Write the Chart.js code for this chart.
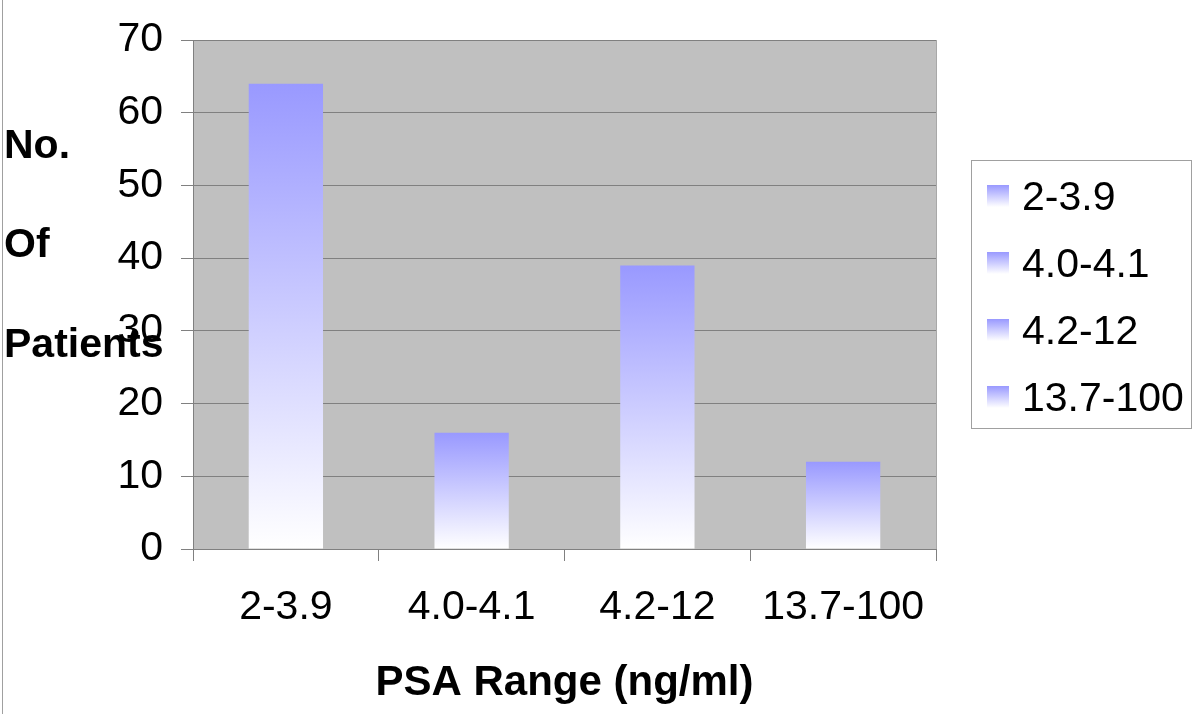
<!DOCTYPE html>
<html>
<head>
<meta charset="utf-8">
<script src="https://cdn.jsdelivr.net/npm/chart.js@4.4.0/dist/chart.umd.min.js"></script>
<style>
  html, body { margin: 0; padding: 0; background: #ffffff; }
  #wrap { width: 1200px; height: 714px; position: relative; }
</style>
</head>
<body>
<div id="wrap"><canvas id="c" width="1200" height="714"></canvas></div>
<script>
const categories = ['2-3.9', '4.0-4.1', '4.2-12', '13.7-100'];
const patients = [64, 16, 39, 12];
const yTitleLines = ['No.', 'Of', 'Patients'];
const xTitle = 'PSA Range (ng/ml)';
const yMin = 0, yMax = 70, yStep = 10;

const FONT = '"Liberation Sans", Arial, sans-serif';
const BAR_TOP = '#9999ff';
const BAR_BOTTOM = '#ffffff';

function barGradient(ctx) {
  const chart = ctx.chart;
  const { chartArea, scales } = chart;
  if (!chartArea || ctx.raw === undefined) return BAR_TOP;
  const top = scales.y.getPixelForValue(ctx.raw);
  const bot = scales.y.getPixelForValue(0);
  const g = chart.ctx.createLinearGradient(0, top, 0, bot);
  g.addColorStop(0, BAR_TOP);
  g.addColorStop(1, BAR_BOTTOM);
  return g;
}

const decorPlugin = {
  id: 'decor',
  beforeDraw(chart) {
    const { ctx, chartArea: a } = chart;
    ctx.save();
    ctx.fillStyle = '#c0c0c0';
    ctx.fillRect(a.left, a.top, a.right - a.left, a.bottom - a.top);
    ctx.restore();
  },
  afterDraw(chart) {
    const { ctx, chartArea: a } = chart;
    ctx.save();
    ctx.strokeStyle = '#a0a0a0';
    ctx.lineWidth = 1;
    ctx.beginPath();
    ctx.moveTo(2.5, 0); ctx.lineTo(2.5, 714);
    ctx.stroke();
    ctx.strokeStyle = '#a8a8a8';
    ctx.beginPath();
    ctx.moveTo(Math.round(a.right) + 0.5, a.top); ctx.lineTo(Math.round(a.right) + 0.5, a.bottom);
    ctx.stroke();

    ctx.fillStyle = '#000000';
    ctx.font = 'bold 41px ' + FONT;
    ctx.textAlign = 'left';
    ctx.textBaseline = 'alphabetic';
    const baselines = [158, 257, 357];
    yTitleLines.forEach((t, i) => ctx.fillText(t, 4, baselines[i]));

    const lx = 971.5, ly = 160.5, lw = 220, lh = 268;
    ctx.strokeStyle = '#a0a0a0';
    ctx.lineWidth = 1;
    ctx.strokeRect(lx, ly, lw, lh);
    ctx.font = '41px ' + FONT;
    categories.forEach((c, i) => {
      const cy = 196 + i * 67;
      const g = ctx.createLinearGradient(0, cy - 11, 0, cy + 11);
      g.addColorStop(0, BAR_TOP);
      g.addColorStop(1, BAR_BOTTOM);
      ctx.fillStyle = g;
      ctx.fillRect(987, cy - 11, 22, 22);
      ctx.fillStyle = '#000000';
      ctx.fillText(c, 1022, 210 + i * 67);
    });
    ctx.restore();
  }
};

new Chart(document.getElementById('c'), {
  type: 'bar',
  data: {
    labels: categories,
    datasets: [{
      label: 'No. Of Patients',
      data: patients,
      backgroundColor: barGradient,
      borderWidth: 0,
      categoryPercentage: 1.0,
      barPercentage: 0.4
    }]
  },
  options: {
    responsive: false,
    animation: false,
    devicePixelRatio: 1,
    layout: { padding: { top: 40, right: 264, left: 0, bottom: 0 } },
    plugins: {
      legend: { display: false },
      tooltip: { enabled: false }
    },
    scales: {
      x: {
        offset: true,
        grid: {
          offset: true,
          drawOnChartArea: false,
          drawTicks: true,
          tickLength: 12,
          color: '#808080',
          lineWidth: 1
        },
        border: { display: true, color: '#808080', width: 1 },
        ticks: {
          color: '#000000',
          font: { family: FONT, size: 41 },
          padding: 22,
          maxRotation: 0,
          autoSkip: false
        },
        title: {
          display: true,
          text: xTitle,
          color: '#000000',
          font: { family: FONT, size: 42, weight: 'bold', lineHeight: 1.2 },
          padding: { top: 0, bottom: 5 }
        },
        afterFit(scale) { scale.height = 165; scale.paddingLeft = 0; scale.paddingRight = 0; }
      },
      y: {
        min: yMin,
        max: yMax,
        ticks: {
          stepSize: yStep,
          color: '#000000',
          font: { family: FONT, size: 41 },
          padding: 18
        },
        grid: {
          color: '#808080',
          lineWidth: 1,
          drawTicks: true,
          tickLength: 12
        },
        border: { display: true, color: '#808080', width: 1 },
        afterFit(scale) { scale.width = 193; scale.paddingTop = 0; scale.paddingBottom = 0; }
      }
    }
  },
  plugins: [decorPlugin]
});
</script>
</body>
</html>
